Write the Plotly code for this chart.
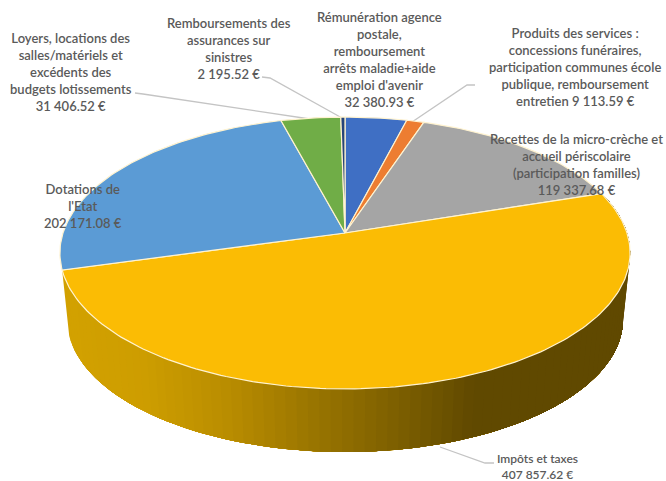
#!/usr/bin/env python3
# -*- coding: utf-8 -*-
"""Recettes de fonctionnement: 3D-looking pie chart drawn with filled scatter traces."""
import numpy as np
import plotly.graph_objects as go

CATEGORIES = [
    "Rémunération agence postale, remboursement arrêts maladie+aide emploi d'avenir",
    "Produits des services : concessions funéraires, participation communes école publique, remboursement entretien",
    "Recettes de la micro-crèche et accueil périscolaire (participation familles)",
    "Impôts et taxes",
    "Dotations de l'Etat",
    "Loyers, locations des salles/matériels et excédents des budgets lotissements",
    "Remboursements des assurances sur sinistres",
]
VALUES = [32380.93, 9113.59, 119337.68, 407857.62, 202171.08, 31406.52, 2195.52]
COLORS = ["#3F6FC4", "#ED7D31", "#A5A5A5", "#FBBC04", "#5B9BD5", "#70AD47", "#264478"]

LABELS = [
    "Rémunération agence<br>postale,<br>remboursement<br>arrêts maladie+aide<br>emploi d'avenir<br>32 380.93 €",
    "Produits des services :<br>concessions funéraires,<br>participation communes école<br>publique, remboursement<br>entretien 9 113.59 €",
    "Recettes de la micro-crèche et<br>accueil périscolaire<br>(participation familles)<br>119 337.68 €",
    "Impôts et taxes<br>407 857.62 €",
    "Dotations de<br>l'Etat<br>202 171.08 €",
    "Loyers, locations des<br>salles/matériels et<br>excédents des<br>budgets lotissements<br>31 406.52 €",
    "Remboursements des<br>assurances sur<br>sinistres<br>2 195.52 €",
]
LABEL_X = [379, 575, 576, 537, 83, 71, 229]
LABEL_Y = [59, 67, 164, 466, 206, 72, 48]
LABEL_SIZE = [13, 13, 13, 12, 13, 13, 13]

# leader lines, in pixels
LEADERS = [
    ([135, 143, 310], [93, 94, 119]),
    ([262, 270, 342], [77, 78, 118]),
    ([475, 467, 412], [85, 85, 122]),
    ([494, 485, 440], [463, 463, 447]),
]

# pie geometry in pixels
CX, CY = 345, 233
RX, RY = 282, 133
PERSP = -0.147
WALL_SCALE = 0.975
WALL_DROP = 67


def project(theta, scale=1.0, drop=0.0):
    """Theta in degrees clockwise from the top of the pie to page pixels."""
    rad = np.radians(theta)
    s, t = np.sin(rad), -np.cos(rad)
    w = 1 + PERSP * t
    return CX + scale * RX * s / w, CY + drop + scale * RY * t / w


def wall_color(x):
    stops_x = [66, 140, 225, 300, 400, 470, 630]
    red = np.interp(x, stops_x, [210, 205, 184, 156, 122, 96, 96])
    green = np.interp(x, stops_x, [161, 157, 140, 119, 93, 73, 73])
    return f"rgb({red:.0f},{green:.0f},0)"


fractions = np.array(VALUES) / sum(VALUES)
edges = np.concatenate([[0], np.cumsum(fractions) * 360])

fig = go.Figure()

for lx, ly in LEADERS:
    fig.add_trace(
        go.Scatter(x=lx, y=ly, mode="lines", line=dict(color="#C4C4C4", width=1.3), hoverinfo="skip")
    )

# wall below the big slice, painted left to right with overlapping bands so no seams show
for start in np.arange(edges[4], edges[3], -2.0):
    arc = np.linspace(start, edges[3], int((start - edges[3]) / 2) + 2)
    x0, y0 = project(arc)
    x1, y1 = project(arc[::-1], WALL_SCALE, WALL_DROP)
    fig.add_trace(
        go.Scatter(
            x=np.concatenate([x0, x1]),
            y=np.concatenate([y0, y1]),
            mode="lines",
            fill="toself",
            fillcolor=wall_color(x0[0]),
            line=dict(width=0),
            hoverinfo="skip",
        )
    )

# top face
for i, name in enumerate(CATEGORIES):
    arc = np.linspace(edges[i], edges[i + 1], max(int(edges[i + 1] - edges[i]), 2) + 1)
    x, y = project(arc)
    fig.add_trace(
        go.Scatter(
            x=np.concatenate([[CX], x, [CX]]),
            y=np.concatenate([[CY], y, [CY]]),
            mode="lines",
            fill="toself",
            fillcolor=COLORS[i],
            line=dict(color="#FFF3D0", width=1.2),
            name=name,
            hovertemplate=f"{name}<br>{VALUES[i]:.2f} €<extra></extra>",
        )
    )

for text, x, y, size in zip(LABELS, LABEL_X, LABEL_Y, LABEL_SIZE):
    fig.add_annotation(
        x=x,
        y=y,
        text=text,
        showarrow=False,
        align="center",
        font=dict(family="Lato", size=size, color="#5A5A5A", weight=600),
    )

fig.update_layout(
    width=666,
    height=481,
    margin=dict(l=0, r=0, t=0, b=0),
    paper_bgcolor="white",
    plot_bgcolor="white",
    showlegend=False,
    xaxis=dict(range=[0, 666], visible=False, fixedrange=True),
    yaxis=dict(range=[481, 0], visible=False, fixedrange=True),
)

fig.write_html(
    "out.html",
    config=dict(displayModeBar=False),
    post_script="document.body.style.margin = '0';",
)
